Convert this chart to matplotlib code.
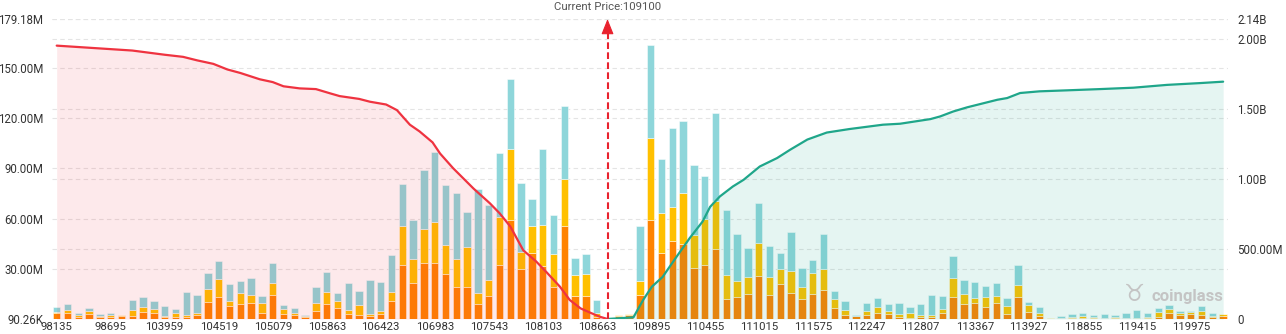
import matplotlib
matplotlib.use('Agg')
import matplotlib.pyplot as plt
import matplotlib.transforms as mtransforms
import numpy as np

plt.rcParams['font.family'] = ['Roboto', 'DejaVu Sans']

# ---------------- data ----------------
x_labels = ['98135', '98695', '103959', '104519', '105079', '105863', '106423',
            '106983', '107543', '108103', '108663', '109895', '110455', '111015',
            '111575', '112247', '112807', '113367', '113927', '118855', '119415',
            '119975']

orange = [3.8, 3.4, 1.4, 2.8, 1.4, 1.4, 2.0, 2.0, 4.0, 3.8,
          1.0, 1.0, 1.4, 2.2, 10.0, 13.4, 8.0, 9.2, 9.8, 3.8,
          14.6, 2.8, 2.2, 1.4, 5.0, 9.2, 6.6, 3.2, 2.2, 1.6,
          3.2, 11.0, 32.0, 21.8, 33.2, 33.2, 26.6, 19.4, 19.4, 9.0,
          14.0, 32.0, 59.0, 29.6, 39.6, 31.4, 19.0, 55.4, 13.8, 13.8,
          1.4, 0, 2.0, 2.4, 14.4, 59.4, 39.2, 46.4, 44.8, 30.2,
          32.4, 41.8, 12.2, 13.4, 15.2, 25.6, 14.6, 21.2, 15.8, 12.0,
          15.0, 17.6, 6.8, 2.4, 1.8, 2.2, 3.8, 3.0, 1.4, 0.6,
          1.4, 1.4, 3.8, 13.4, 8.8, 9.4, 7.4, 9.6, 3.0, 13.4,
          4.0, 1.8, 0, 0.8, 0.8, 0.8, 0.6, 0.3, 0.6, 0.3,
          0.2, 0.8, 1.4, 3.8, 2.4, 3.0, 2.4, 1.2, 1.8]

yellow = [0.6, 2.0, 0.8, 2.0, 0.4, 1.0, 0.3, 3.4, 3.4, 2.0,
          1.0, 2.8, 0.8, 1.2, 7.8, 10.6, 2.8, 6.6, 4.4, 5.8,
          6.8, 3.0, 1.2, 0.2, 4.8, 7.2, 4.0, 2.0, 6.2, 1.6,
          1.6, 5.2, 23.4, 13.8, 20.6, 24.6, 17.8, 16.4, 23.4, 6.4,
          9.0, 28.8, 42.8, 10.4, 16.2, 24.6, 20.0, 28.0, 12.6, 13.2,
          2.0, 0, 0.3, 0.4, 8.1, 49.0, 24.2, 20.4, 30.2, 20.2,
          27.4, 28.8, 14.2, 9.4, 9.6, 19.6, 10.6, 8.4, 13.0, 7.0,
          12.2, 12.2, 5.2, 3.0, 0, 2.6, 3.4, 2.0, 1.6, 2.8,
          1.1, 0.8, 2.0, 10.8, 6.4, 3.4, 5.6, 4.0, 4.8, 7.0,
          4.2, 1.6, 0.8, 0, 0.6, 0.8, 0.6, 0.5, 0.4, 0.5,
          0.4, 0.6, 2.6, 2.4, 1.0, 1.2, 2.2, 0.8, 1.2]

cyan = [2.6, 3.6, 1.6, 1.6, 1.2, 1.4, 0.3, 6.0, 6.0, 5.2,
        6.0, 2.4, 14.0, 11.2, 9.6, 10.8, 10.0, 7.0, 10.4, 4.0,
        12.2, 2.8, 3.2, 0.8, 9.4, 11.8, 5.2, 16.2, 8.6, 19.8,
        17.2, 22.2, 25.0, 23.8, 35.0, 42.2, 35.4, 39.2, 21.0, 62.4,
        45.0, 38.2, 41.4, 41.2, 15.6, 45.4, 23.2, 43.6, 10.0, 12.0,
        8.0, 0, 0, 0, 33.3, 55.4, 32.2, 47.2, 43.2, 41.8,
        25.4, 52.6, 38.6, 28.2, 17.6, 23.8, 18.6, 9.8, 22.9, 11.2,
        8.2, 21.0, 5.0, 5.4, 0.8, 4.8, 5.6, 3.8, 6.6, 4.0,
        6.5, 12.2, 7.8, 13.4, 8.2, 9.2, 6.6, 8.2, 5.0, 12.0,
        2.0, 4.0, 0, 0.8, 1.4, 2.2, 1.0, 2.2, 1.2, 2.6,
        4.8, 2.0, 2.4, 2.0, 1.4, 0.6, 3.4, 1.6, 0]

# cumulative long liquidation (left of price), billions
red_x = [0, 3, 7, 10, 11.7, 13, 14.5, 15.8, 17, 18.8, 20, 21, 22.5, 24, 25.3,
         26.2, 28, 29, 30.5, 31.5, 32.7, 33.6, 34.8, 35.5, 36.7, 38.6, 40.1,
         41, 42, 43.2, 44.4, 45.4, 46.6, 47.5, 48.5, 49.4, 50.3, 51]
red_y = [1.95, 1.935, 1.915, 1.885, 1.87, 1.845, 1.82, 1.78, 1.755, 1.71, 1.69,
         1.66, 1.645, 1.64, 1.61, 1.59, 1.57, 1.55, 1.53, 1.49, 1.386, 1.338,
         1.26, 1.18, 1.076, 0.93, 0.826, 0.755, 0.66, 0.49, 0.41, 0.33, 0.23,
         0.136, 0.076, 0.045, 0.016, 0]

# cumulative short liquidation (right of price), billions
green_x = [51, 53.4, 54.3, 55.1, 56.1, 57.4, 58.6, 59.8, 60.5, 61.4, 62.6, 63.6,
           65.1, 66.7, 67.9, 69.5, 71.3, 73.4, 76.5, 78.1, 80.9, 81.8, 83.0,
           84.3, 87.1, 88.0, 89.2, 91.0, 93.5, 96.6, 99.7, 102.8, 105.9, 108]
green_y = [0, 0.012, 0.136, 0.23, 0.30, 0.445, 0.576, 0.695, 0.80, 0.874, 0.945,
           0.993, 1.088, 1.148, 1.207, 1.28, 1.33, 1.355, 1.386, 1.393, 1.426,
           1.445, 1.48, 1.51, 1.564, 1.576, 1.612, 1.624, 1.631, 1.64, 1.65,
           1.67, 1.683, 1.693]

left_ticks = [0.09026, 30, 60, 90, 120, 150, 179.18]
left_tick_labels = ['90.26K', '30.00M', '60.00M', '90.00M', '120.00M', '150.00M', '179.18M']
right_ticks = [0, 0.5, 1.0, 1.5, 2.0, 2.14]
right_tick_labels = ['0', '500.00M', '1.00B', '1.50B', '2.00B', '2.14B']

current_idx = 51
current_label = 'Current Price:109100'

# ---------------- styles ----------------
C_ORANGE = '#FF8300'
C_YELLOW = '#FFC000'
C_CYAN = '#8ED6DA'
C_RED = '#EF3340'
C_GREEN = '#1FA68A'
GRID = '#e4e4e4'
TXT = '#333333'

W, H = 1286, 334
fig = plt.figure(figsize=(W / 100, H / 100), dpi=100)
ax = fig.add_axes([52 / W, 15 / H, 1176 / W, 300 / H])
ax2 = ax.twinx()

n = len(orange)
x = np.arange(n)
o = np.array(orange)
y = np.array(yellow)
c = np.array(cyan)
bw = 0.68
ec = (1, 1, 1, 0.55)
ax.bar(x, o, width=bw, color=C_ORANGE, edgecolor=ec, linewidth=0.6, zorder=2)
ax.bar(x, y, bottom=o, width=bw, color=C_YELLOW, edgecolor=ec, linewidth=0.6, zorder=2)
ax.bar(x, c, bottom=o + y, width=bw, color=C_CYAN, edgecolor=ec, linewidth=0.6, zorder=2)

ax.set_xlim(-0.435, 108.45)
ax.set_ylim(0, 179.18)
ax2.set_ylim(0, 2.14)

# grids (both scales), beneath bars
dash = (0, (4, 3))
for v in left_ticks:
    ax.axhline(v, color=GRID, lw=0.8, linestyle=dash, zorder=0.5)
for v in right_ticks:
    ax.plot([-0.435, 108.45], [v, v], transform=ax2.transData, color=GRID,
            lw=0.8, linestyle=dash, zorder=0.5)

# cumulative areas overlaid on bars
ax2.fill_between(red_x, red_y, 0, color=(240 / 255, 40 / 255, 60 / 255, 0.10), lw=0, zorder=1)
ax2.plot(red_x, red_y, color=C_RED, lw=1.6, zorder=3, solid_capstyle='round')
ax2.fill_between(green_x, green_y, 0, color=(26 / 255, 165 / 255, 138 / 255, 0.11), lw=0, zorder=1)
ax2.plot(green_x, green_y, color=C_GREEN, lw=1.6, zorder=3, solid_capstyle='round')

# current price line + arrow
ax2.plot([current_idx, current_idx], [0, 2.04], color='#E9222E', lw=1.5,
         dashes=(3.2, 1.6), zorder=4)
ax2.annotate('', xy=(current_idx, 2.14), xytext=(current_idx, 2.03),
             arrowprops=dict(arrowstyle='-|>,head_length=0.95,head_width=0.38',
                             color='#E9222E', lw=0.8, shrinkA=0, shrinkB=0),
             annotation_clip=False, zorder=5)
trans = mtransforms.blended_transform_factory(ax.transData, ax.transAxes)
ax.text(current_idx, 1 + 12 / 300, current_label, transform=trans, ha='center',
        va='center', fontsize=8.2, color='#555555')

# ticks
ax.set_xticks(x[::5][:len(x_labels)])
ax.set_xticklabels(x_labels)
ax.set_yticks(left_ticks)
ax.set_yticklabels(left_tick_labels)
ax2.set_yticks(right_ticks)
ax2.set_yticklabels(right_tick_labels)
ax.tick_params(axis='x', length=0, pad=2.5, labelsize=8.2, labelcolor=TXT)
ax.tick_params(axis='y', length=0, pad=6.3, labelsize=8.3, labelcolor=TXT)
ax2.tick_params(axis='y', length=0, pad=6.5, labelsize=8.3, labelcolor=TXT)

for a in (ax, ax2):
    for s in a.spines.values():
        s.set_visible(False)

# watermark
fig.text(1134 / W, 1 - 294 / H, '\u2649', ha='center', va='center',
         fontsize=17, color='#c4c4c4', family='DejaVu Sans')
fig.text(1187 / W, 1 - 296 / H, 'coinglass', ha='center', va='center',
         fontsize=12, fontweight='bold', color='#c4c4c4')

fig.savefig('out.png', dpi=100)
